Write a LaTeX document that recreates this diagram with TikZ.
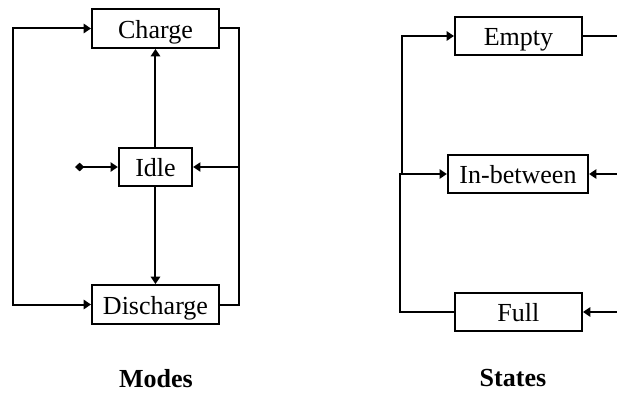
\documentclass[tikz,border=0pt]{standalone}
\usepackage{fontspec}
\setmainfont{Liberation Serif}
\usetikzlibrary{arrows.meta}
\tikzset{
  statebox/.style={draw=black, line width=1.5pt, inner sep=0pt,
    minimum width=3.36cm, minimum height=1.03cm,
    text height=14.8pt, text depth=0pt,
    font=\fontsize{19.6}{23}\selectfont},
  widebox/.style={statebox, minimum width=3.71cm},
  smallbox/.style={statebox, minimum width=1.94cm},
  grouptitle/.style={font=\fontsize{19.6}{23}\selectfont\bfseries},
  flow/.style={-{Triangle[length=5.5pt,width=7pt]}, line width=1.5pt},
  plainflow/.style={line width=1.5pt},
  thinflow/.style={-{Triangle[length=5.5pt,width=7pt]}, line width=.9pt},
  thinline/.style={line width=.9pt}
}
\begin{document}
\begin{tikzpicture}[x=1cm,y=1cm]
  \useasboundingbox (0,0) rectangle (16.325,10.372);

  % modes
  \node[statebox] (charge) at (4.114,9.618) {Charge};
  \node[smallbox] (idle) at (4.114,5.953) {Idle};
  \node[statebox] (discharge) at (4.114,2.315) {Discharge};
  \node[grouptitle] (modes) at (4.127,0.36) {Modes};
  \coordinate (modesleft) at (0.344,2.315);
  \coordinate (modesright) at (6.323,2.315);
  \coordinate (idlestart) at (1.984,5.953);

  \draw[flow, {Triangle[length=5.5pt,width=7pt]}-{Triangle[length=5.5pt,width=7pt]}]
    (charge.west) -| (modesleft) -- (discharge.west);
  \draw[plainflow] (charge.east) -| (modesright) -- (discharge.east);
  \draw[thinflow] (modesright |- idle) -- (idle.east);
  \draw[flow] (idle.north) -- (charge.south);
  \draw[flow] (idle.south) -- (discharge.north);
  \draw[flow, {Diamond[length=7pt,width=6.5pt]}-{Triangle[length=5.5pt,width=7pt]}]
    (idlestart) -- (idle.west);

  % states
  \node[statebox] (empty) at (13.718,9.419) {Empty};
  \node[widebox] (between) at (13.705,5.768) {In-between};
  \node[statebox] (full) at (13.718,2.117) {Full};
  \node[grouptitle] (states) at (13.573,0.36) {States};
  \coordinate (statesupper) at (10.636,5.768);
  \coordinate (stateslower) at (10.583,2.117);
  \coordinate (statesedge) at (16.40,5.768);

  \draw[flow] (statesupper) |- (empty.west);
  \draw[flow] (full.west) -- (stateslower) |- (between.west);
  \draw[thinline] (empty.east) -- (statesedge |- empty);
  \draw[flow] (statesedge) -- (between.east);
  \draw[flow] (statesedge |- full) -- (full.east);
\end{tikzpicture}
\end{document}
